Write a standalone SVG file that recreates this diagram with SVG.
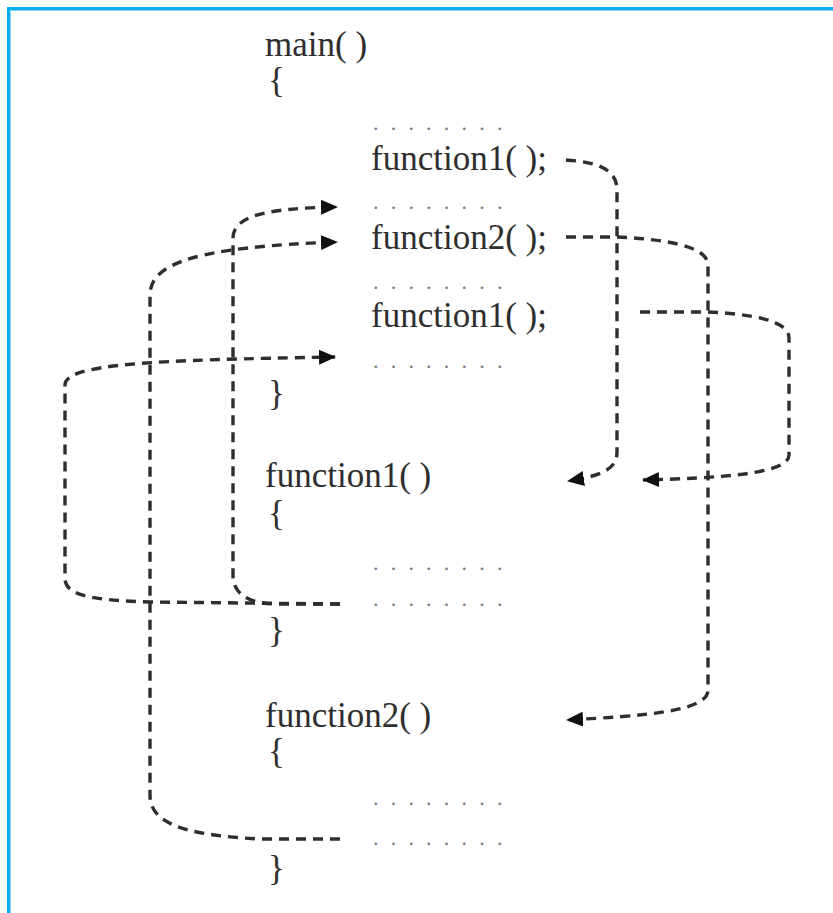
<svg xmlns="http://www.w3.org/2000/svg" width="833" height="913" viewBox="0 0 833 913">
<style>
.t{font-family:"Liberation Serif","Times New Roman",serif;font-size:35px;fill:#2e2e2e}
.d{font-family:"Liberation Serif","Times New Roman",serif;font-size:22px;fill:#7a7a7a;letter-spacing:12.2px}
.c{fill:none;stroke:#2e2e2e;stroke-width:3.4;stroke-dasharray:10 7}
</style>
<defs>
<marker id="ah" markerUnits="userSpaceOnUse" markerWidth="17" markerHeight="15" viewBox="0 0 17 15" refX="16" refY="7.5" orient="auto">
<path d="M0,0 L17,7.5 L0,15 z" fill="#111"/>
</marker>
</defs>
<rect x="0" y="0" width="833" height="913" fill="#fff"/>
<rect x="7" y="7" width="826" height="3" fill="#00aeef"/>
<rect x="7" y="7" width="3" height="906" fill="#00aeef"/>
<rect x="10" y="10" width="823" height="1" fill="#8fd8f7"/>
<rect x="10" y="10" width="1" height="903" fill="#8fd8f7"/>

<g id="main">
<text class="t" x="265" y="56">main( )</text>
<text class="t" x="268" y="92">{</text>
<text class="d" x="373" y="130">........</text>
<text class="t" x="371" y="170">function1( );</text>
<text class="d" x="373" y="209">........</text>
<text class="t" x="371" y="249">function2( );</text>
<text class="d" x="373" y="289">........</text>
<text class="t" x="371" y="327">function1( );</text>
<text class="d" x="373" y="368">........</text>
<text class="t" x="268" y="405">}</text>
</g>
<g id="function1">
<text class="t" x="265" y="487">function1( )</text>
<text class="t" x="268" y="525">{</text>
<text class="d" x="373" y="570">........</text>
<text class="d" x="373" y="606">........</text>
<text class="t" x="268" y="642">}</text>
</g>
<g id="function2">
<text class="t" x="265" y="727">function2( )</text>
<text class="t" x="268" y="763">{</text>
<text class="d" x="373" y="805">........</text>
<text class="d" x="373" y="845">........</text>
<text class="t" x="268" y="880">}</text>
</g>

<g id="connectors">
<path class="c" d="M566,160 C595,162 617,168 617,190 L617,452 C617,470 600,476 568,481" marker-end="url(#ah)"/>
<path class="c" d="M566,237 L617,237 C660,239 708,245 708,265 L708,690 C708,712 640,716 567,720" marker-end="url(#ah)"/>
<path class="c" d="M640,312 L708,312 C750,314 789,320 789,338 L789,455 C789,474 720,478 643,480" marker-end="url(#ah)"/>
<path class="c" d="M340,604 L275,604 C245,603 233,592 233,575 L233,238 C233,215 270,208 337,207" marker-end="url(#ah)"/>
<path class="c" d="M340,604 L150,602 C85,600 65,594 65,578 L65,385 C65,364 150,360 335,357" marker-end="url(#ah)"/>
<path class="c" d="M340,839 L260,839 C180,835 150,822 150,795 L150,295 C150,262 200,247 337,242" marker-end="url(#ah)"/>
</g>
</svg>
